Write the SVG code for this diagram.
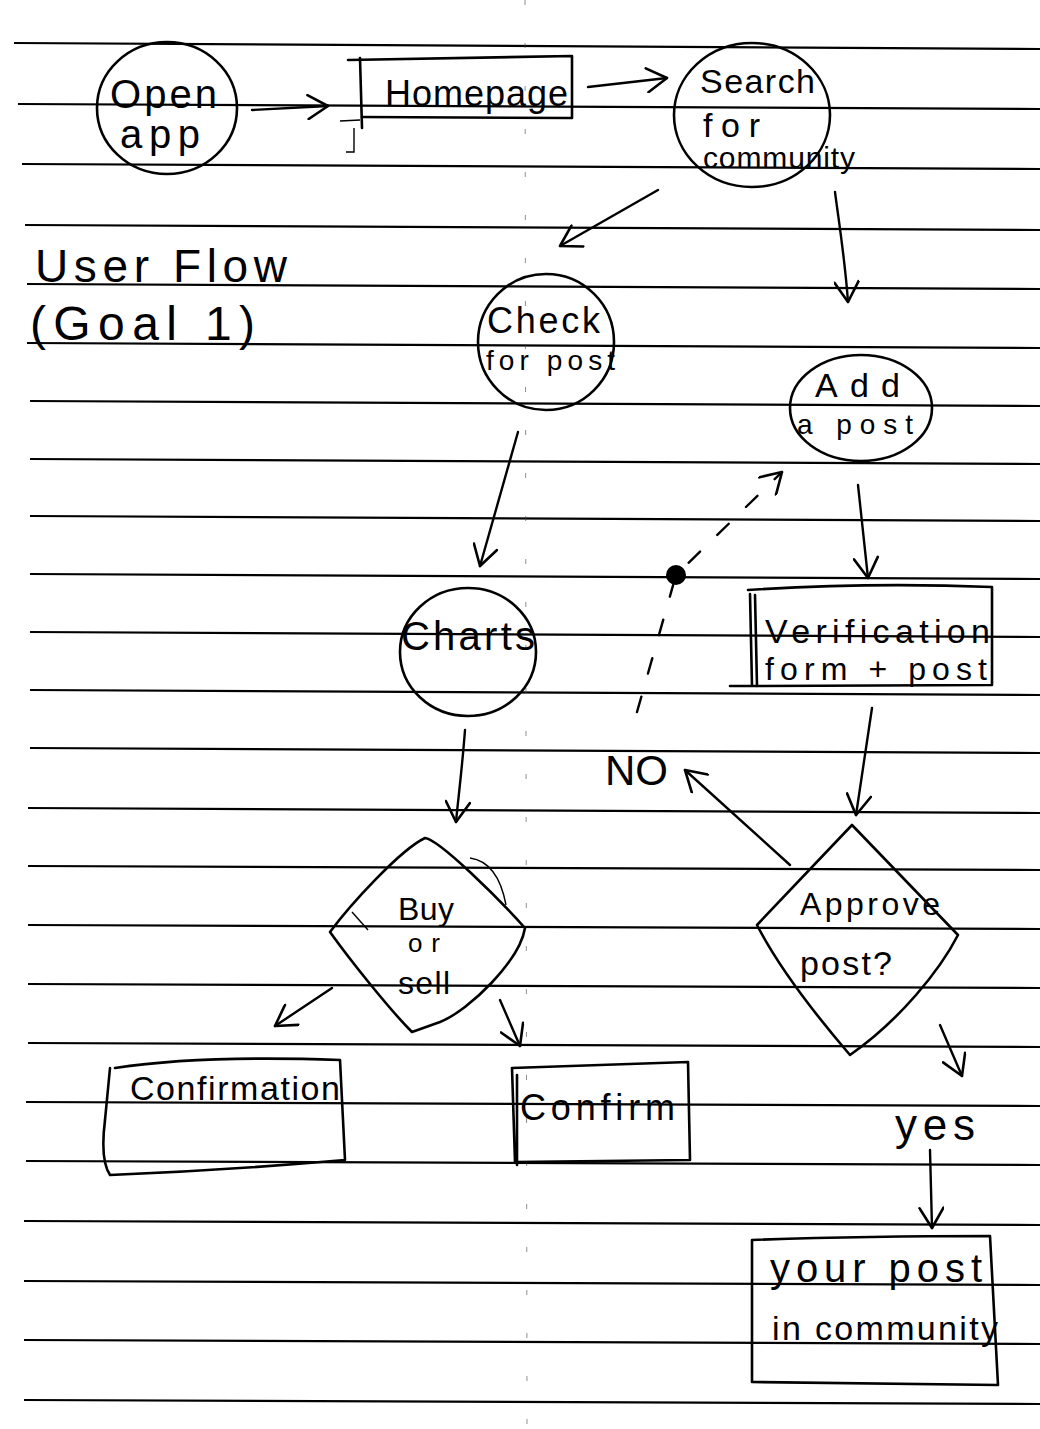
<svg xmlns="http://www.w3.org/2000/svg" width="1040" height="1429" viewBox="0 0 1040 1429">
<defs>
<style>
.rule{stroke:#000;stroke-width:2.2;fill:none}
.fold{stroke:#444;stroke-width:1;stroke-dasharray:5 38;fill:none;opacity:.6}
.shape{stroke:#000;stroke-width:2.6;fill:none;stroke-linejoin:round;stroke-linecap:round}
.thin{stroke:#000;stroke-width:1.4;fill:none}
.conn{stroke:#000;stroke-width:2.4;fill:none;stroke-linecap:round;marker-end:url(#v)}
.dash{stroke-dasharray:16 24}
text{font-family:"Liberation Sans","DejaVu Sans",sans-serif;fill:#000;lengthAdjust:spacingAndGlyphs}
</style>
<marker id="v" viewBox="0 0 26 26" refX="23" refY="13" markerWidth="26" markerHeight="26" markerUnits="userSpaceOnUse" orient="auto">
<path d="M3,1 L23,13 L3,25" fill="none" stroke="#000" stroke-width="2.6" stroke-linecap="round" stroke-linejoin="round"/>
</marker>
</defs>
<rect width="1040" height="1429" fill="#fff"/>
<g id="paper">
<line class="rule" x1="14" y1="43" x2="1040" y2="49"/>
<line class="rule" x1="18" y1="104" x2="1040" y2="109"/>
<line class="rule" x1="22" y1="164" x2="1040" y2="169"/>
<line class="rule" x1="25" y1="225" x2="1040" y2="230"/>
<line class="rule" x1="27" y1="284" x2="1040" y2="289"/>
<line class="rule" x1="27" y1="343" x2="1040" y2="348"/>
<line class="rule" x1="30" y1="401" x2="1040" y2="406"/>
<line class="rule" x1="30" y1="459" x2="1040" y2="464"/>
<line class="rule" x1="30" y1="516" x2="1040" y2="521"/>
<line class="rule" x1="30" y1="574" x2="1040" y2="579"/>
<line class="rule" x1="30" y1="632" x2="1040" y2="637"/>
<line class="rule" x1="30" y1="690" x2="1040" y2="695"/>
<line class="rule" x1="30" y1="748" x2="1040" y2="753"/>
<line class="rule" x1="28" y1="808" x2="1040" y2="813"/>
<line class="rule" x1="28" y1="866" x2="1040" y2="870"/>
<line class="rule" x1="28" y1="925" x2="1040" y2="929"/>
<line class="rule" x1="28" y1="984" x2="1040" y2="988"/>
<line class="rule" x1="28" y1="1043" x2="1040" y2="1047"/>
<line class="rule" x1="26" y1="1102" x2="1040" y2="1106"/>
<line class="rule" x1="26" y1="1161" x2="1040" y2="1165"/>
<line class="rule" x1="24" y1="1221" x2="1040" y2="1225"/>
<line class="rule" x1="24" y1="1281" x2="1040" y2="1285"/>
<line class="rule" x1="24" y1="1340" x2="1040" y2="1344"/>
<line class="rule" x1="24" y1="1400" x2="1040" y2="1404"/>
<line class="fold" x1="525" y1="0" x2="527" y2="1429"/>
</g>
<g id="title">
<text x="35" y="282" font-size="46" textLength="252">User Flow</text>
<text x="30" y="340" font-size="48" textLength="225">(Goal 1)</text>
</g>
<g id="node-open-app">
<ellipse class="shape" cx="167" cy="108" rx="70" ry="66"/>
<text x="110" y="108" font-size="40" textLength="107">Open</text>
<text x="120" y="148" font-size="40" textLength="80">app</text>
</g>
<g id="node-homepage">
<path class="shape" d="M348,60 L572,56 L572,118 L362,117"/>
<path class="shape" d="M360,58 L362,128"/>
<path class="thin" d="M340,121 L360,120 M354,128 L354,152 L346,152"/>
<text x="385" y="106" font-size="36" textLength="183">Homepage</text>
</g>
<g id="node-search">
<ellipse class="shape" cx="752" cy="115" rx="78" ry="72"/>
<text x="700" y="93" font-size="34" textLength="115">Search</text>
<text x="703" y="137" font-size="34" textLength="57">for</text>
<text x="703" y="168" font-size="30" textLength="152">community</text>
</g>
<g id="node-check">
<ellipse class="shape" cx="546" cy="342" rx="68" ry="68"/>
<text x="487" y="333" font-size="36" textLength="113">Check</text>
<text x="486" y="370" font-size="28" textLength="129">for post</text>
</g>
<g id="node-add">
<ellipse class="shape" cx="861" cy="408" rx="71" ry="53"/>
<text x="815" y="397" font-size="34" textLength="85">Add</text>
<text x="797" y="434" font-size="28" textLength="116">a post</text>
</g>
<g id="node-charts">
<ellipse class="shape" cx="468" cy="652" rx="68" ry="64"/>
<text x="401" y="650" font-size="40" textLength="134">Charts</text>
</g>
<g id="node-verification">
<path class="shape" d="M748,590 Q870,582 992,587 L992,685 L757,686 L755,595"/>
<path class="shape" d="M750,594 L752,686 M730,686 L757,686"/>
<text x="765" y="643" font-size="34" textLength="225">Verification</text>
<text x="765" y="680" font-size="32" textLength="222">form + post</text>
</g>
<g id="node-buy-sell">
<path class="shape" d="M425,838 C440,840 500,900 525,928 C520,960 470,1010 440,1022 L412,1032 C390,1010 350,960 330,932 C350,905 400,850 425,838 Z"/>
<path class="thin" d="M470,858 Q498,862 506,905 M352,912 L368,930"/>
<text x="398" y="920" font-size="32" textLength="56">Buy</text>
<text x="408" y="952" font-size="26" textLength="32">or</text>
<text x="398" y="994" font-size="32" textLength="52">sell</text>
</g>
<g id="node-approve">
<path class="shape" d="M852,825 L958,935 C940,970 900,1020 850,1055 C820,1020 780,970 757,925 L852,825 Z"/>
<text x="800" y="915" font-size="32" textLength="140">Approve</text>
<text x="800" y="975" font-size="34" textLength="92">post?</text>
</g>
<g id="node-confirmation">
<path class="shape" d="M115,1068 Q200,1055 340,1060 L345,1160 Q230,1170 110,1175 Q100,1160 105,1120 L110,1068"/>
<text x="130" y="1100" font-size="34" textLength="210">Confirmation</text>
</g>
<g id="node-confirm">
<path class="shape" d="M512,1068 L688,1062 L690,1160 L515,1162 Z M517,1075 L517,1165"/>
<text x="520" y="1120" font-size="36" textLength="155">Confirm</text>
</g>
<g id="label-no">
<text x="605" y="785" font-size="42" textLength="63">NO</text>
</g>
<g id="label-yes">
<text x="895" y="1140" font-size="44" textLength="80">yes</text>
</g>
<g id="node-your-post">
<path class="shape" d="M752,1240 Q860,1236 990,1236 L998,1385 L752,1382 Z"/>
<text x="770" y="1282" font-size="40" textLength="212">your post</text>
<text x="772" y="1340" font-size="34" textLength="226">in community</text>
</g>
<g id="connectors">
<path class="conn" d="M252,110 L328,106"/>
<path class="conn" d="M588,87 L667,78"/>
<path class="conn" d="M658,190 L560,246"/>
<path class="conn" d="M835,192 C840,230 845,260 848,302"/>
<path class="conn" d="M518,432 L480,566"/>
<path class="conn" d="M858,485 L868,578"/>
<path class="conn" d="M465,730 C462,770 458,800 456,822"/>
<path class="conn" d="M872,708 L856,815"/>
<path class="conn" d="M332,988 L275,1026"/>
<path class="conn" d="M500,1000 L520,1046"/>
<path class="conn" d="M790,865 L685,770"/>
<path class="conn" d="M940,1025 L962,1076"/>
<path class="conn" d="M930,1150 L932,1228"/>
<path class="conn dash" d="M637,712 L676,575 L782,472"/>
<circle cx="676" cy="575" r="10" fill="#000"/>
</g>
</svg>
